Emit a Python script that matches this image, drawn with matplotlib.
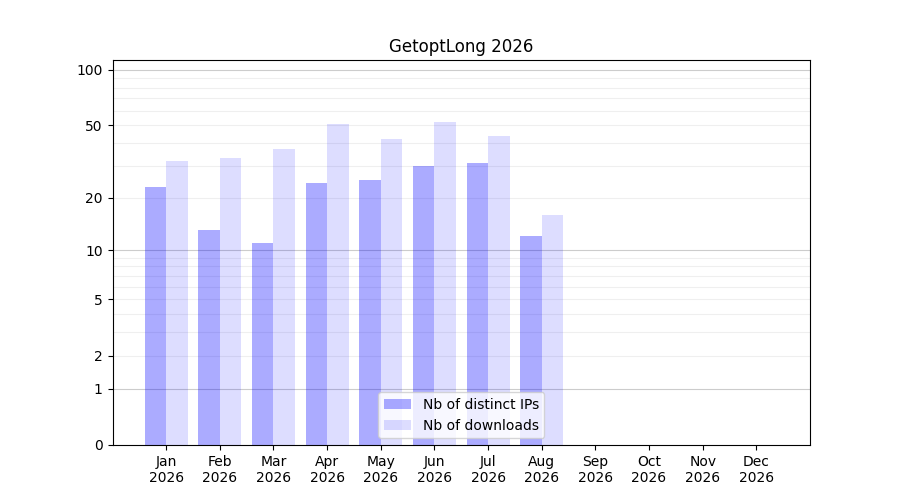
import numpy as np
import matplotlib as mpl

mpl.use('agg')

import matplotlib.pyplot as plt
from matplotlib.ticker import FixedLocator, FixedFormatter

## Monthly stats
months = ["Jan", "Feb", "Mar", "Apr", "May", "Jun",
          "Jul", "Aug", "Sep", "Oct", "Nov", "Dec"]
year = "2026"
distinct_ips = [23, 13, 11, 24, 25, 30, 31, 12]
downloads = [32, 33, 37, 51, 42, 52, 44, 16]

major_ticks = [0, 1, 2, 5, 10, 20, 50, 100]
major_grid = [1, 10, 100]
minor_grid = [2, 3, 4, 5, 6, 7, 8, 9, 20, 30, 40, 50, 60, 70, 80, 90]


def fwd(v):
    return np.log10(1 + np.asarray(v, dtype=float))


def inv(v):
    return 10 ** np.asarray(v, dtype=float) - 1


fig = plt.figure(figsize=(9, 5), dpi=100)
ax = fig.add_subplot(111)

x = np.arange(len(distinct_ips))
ax.bar(x - 0.2, distinct_ips, width=0.4, color='blue', alpha=0.33,
       label="Nb of distinct IPs")
ax.bar(x + 0.2, downloads, width=0.4, color='blue', alpha=0.135,
       label="Nb of downloads")

# log(1 + x) scale so that zero still shows up
ax.set_yscale('function', functions=(fwd, inv))
ax.set_ylim(0, 113)
ax.yaxis.set_major_locator(FixedLocator(major_ticks))
ax.yaxis.set_major_formatter(FixedFormatter([str(t) for t in major_ticks]))
ax.yaxis.set_minor_locator(FixedLocator([]))

for v in major_grid:
    ax.axhline(v, color='gray', alpha=0.4, linewidth=0.8, zorder=0.5)
for v in minor_grid:
    ax.axhline(v, color='gray', alpha=0.12, linewidth=0.8, zorder=0.5)

ax.set_xticks(np.arange(len(months)))
ax.set_xticklabels([m + "\n" + year for m in months])
ax.set_xlim(-1, 12)

ax.set_title("GetoptLong 2026")
ax.legend(loc='lower center')

fig.savefig('out.png')
